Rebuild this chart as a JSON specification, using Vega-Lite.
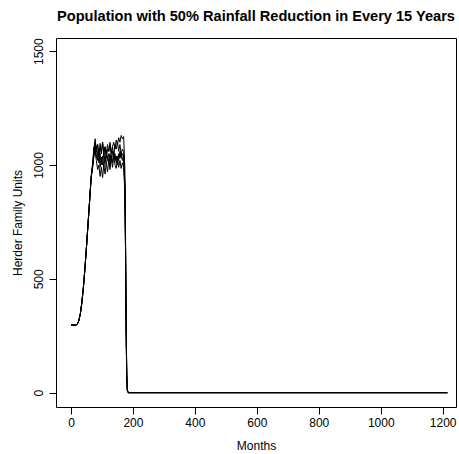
{
  "$schema": "https://vega.github.io/schema/vega-lite/v6.json",
  "width": 400,
  "height": 369,
  "autosize": {"type": "none"},
  "padding": {"left": 56, "top": 38, "right": 3, "bottom": 47},
  "background": "white",
  "title": {
    "text": "Population with 50% Rainfall Reduction in Every 15 Years",
    "font": "Liberation Sans",
    "fontSize": 14.6,
    "fontWeight": "bold",
    "color": "black",
    "anchor": "middle",
    "offset": 14
  },
  "config": {
    "view": {"stroke": "black", "strokeWidth": 1},
    "axis": {
      "domain": false,
      "grid": false,
      "tickColor": "black",
      "tickSize": 7,
      "labelFont": "Liberation Sans",
      "labelFontSize": 12,
      "labelColor": "black",
      "titleFont": "Liberation Sans",
      "titleFontSize": 12,
      "titleFontWeight": "normal",
      "titleColor": "black"
    }
  },
  "datasets": {
    "runs": [
      {"r":1,"m":0,"v":297},{"r":1,"m":10,"v":297},{"r":1,"m":15,"v":297},{"r":1,"m":20,"v":300},{"r":1,"m":25,"v":315},{"r":1,"m":30,"v":345},{"r":1,"m":35,"v":395},{"r":1,"m":40,"v":462},{"r":1,"m":45,"v":545},{"r":1,"m":50,"v":640},{"r":1,"m":55,"v":740},{"r":1,"m":60,"v":840},{"r":1,"m":65,"v":945},
      {"r":1,"m":70,"v":1010},{"r":1,"m":74,"v":1070},{"r":1,"m":78,"v":1115},{"r":1,"m":82,"v":1060},{"r":1,"m":86,"v":1090},{"r":1,"m":90,"v":1040},{"r":1,"m":94,"v":1095},{"r":1,"m":98,"v":1050},{"r":1,"m":102,"v":1100},{"r":1,"m":106,"v":1040},{"r":1,"m":110,"v":1080},{"r":1,"m":114,"v":1050},{"r":1,"m":118,"v":1090},{"r":1,"m":122,"v":1060},{"r":1,"m":126,"v":1100},{"r":1,"m":130,"v":1050},{"r":1,"m":134,"v":1080},{"r":1,"m":138,"v":1040},{"r":1,"m":142,"v":1090},{"r":1,"m":146,"v":1070},{"r":1,"m":150,"v":1100},{"r":1,"m":154,"v":1060},{"r":1,"m":158,"v":1090},{"r":1,"m":162,"v":1050},{"r":1,"m":166,"v":1070},{"r":1,"m":170,"v":1060},
      {"r":1,"m":174,"v":920},{"r":1,"m":176,"v":660},{"r":1,"m":178,"v":300},{"r":1,"m":180,"v":80},{"r":1,"m":182,"v":10},{"r":1,"m":185,"v":0},{"r":1,"m":1215,"v":0},
      {"r":2,"m":0,"v":297},{"r":2,"m":10,"v":297},{"r":2,"m":15,"v":297},{"r":2,"m":20,"v":300},{"r":2,"m":25,"v":315},{"r":2,"m":30,"v":345},{"r":2,"m":35,"v":395},{"r":2,"m":40,"v":462},{"r":2,"m":45,"v":545},{"r":2,"m":50,"v":640},{"r":2,"m":55,"v":740},{"r":2,"m":60,"v":840},{"r":2,"m":65,"v":945},
      {"r":2,"m":70,"v":990},{"r":2,"m":74,"v":1040},{"r":2,"m":78,"v":1060},{"r":2,"m":82,"v":1020},{"r":2,"m":86,"v":980},{"r":2,"m":90,"v":1000},{"r":2,"m":94,"v":950},{"r":2,"m":98,"v":990},{"r":2,"m":102,"v":945},{"r":2,"m":106,"v":1000},{"r":2,"m":110,"v":960},{"r":2,"m":114,"v":1010},{"r":2,"m":118,"v":970},{"r":2,"m":122,"v":1020},{"r":2,"m":126,"v":980},{"r":2,"m":130,"v":1030},{"r":2,"m":134,"v":990},{"r":2,"m":138,"v":1040},{"r":2,"m":142,"v":1000},{"r":2,"m":146,"v":985},{"r":2,"m":150,"v":1030},{"r":2,"m":154,"v":990},{"r":2,"m":158,"v":1020},{"r":2,"m":162,"v":985},{"r":2,"m":166,"v":1010},{"r":2,"m":170,"v":990},
      {"r":2,"m":174,"v":880},{"r":2,"m":176,"v":640},{"r":2,"m":178,"v":280},{"r":2,"m":180,"v":70},{"r":2,"m":182,"v":8},{"r":2,"m":185,"v":0},{"r":2,"m":1215,"v":0},
      {"r":3,"m":0,"v":297},{"r":3,"m":10,"v":297},{"r":3,"m":15,"v":297},{"r":3,"m":20,"v":300},{"r":3,"m":25,"v":315},{"r":3,"m":30,"v":345},{"r":3,"m":35,"v":395},{"r":3,"m":40,"v":462},{"r":3,"m":45,"v":545},{"r":3,"m":50,"v":640},{"r":3,"m":55,"v":740},{"r":3,"m":60,"v":840},{"r":3,"m":65,"v":945},
      {"r":3,"m":70,"v":1000},{"r":3,"m":74,"v":1050},{"r":3,"m":78,"v":1100},{"r":3,"m":82,"v":1060},{"r":3,"m":86,"v":1090},{"r":3,"m":90,"v":1040},{"r":3,"m":94,"v":1080},{"r":3,"m":98,"v":1050},{"r":3,"m":102,"v":1100},{"r":3,"m":106,"v":1060},{"r":3,"m":110,"v":1080},{"r":3,"m":114,"v":1030},{"r":3,"m":118,"v":1070},{"r":3,"m":122,"v":1060},{"r":3,"m":126,"v":1090},{"r":3,"m":130,"v":1050},{"r":3,"m":134,"v":1080},{"r":3,"m":138,"v":1100},{"r":3,"m":142,"v":1070},{"r":3,"m":146,"v":1110},{"r":3,"m":150,"v":1090},{"r":3,"m":154,"v":1120},{"r":3,"m":158,"v":1100},{"r":3,"m":162,"v":1130},{"r":3,"m":166,"v":1115},{"r":3,"m":170,"v":1125},
      {"r":3,"m":174,"v":980},{"r":3,"m":176,"v":700},{"r":3,"m":178,"v":320},{"r":3,"m":180,"v":90},{"r":3,"m":182,"v":12},{"r":3,"m":185,"v":0},{"r":3,"m":1215,"v":0},
      {"r":4,"m":0,"v":297},{"r":4,"m":10,"v":297},{"r":4,"m":15,"v":297},{"r":4,"m":20,"v":300},{"r":4,"m":25,"v":315},{"r":4,"m":30,"v":345},{"r":4,"m":35,"v":395},{"r":4,"m":40,"v":462},{"r":4,"m":45,"v":545},{"r":4,"m":50,"v":640},{"r":4,"m":55,"v":740},{"r":4,"m":60,"v":840},{"r":4,"m":65,"v":945},
      {"r":4,"m":70,"v":995},{"r":4,"m":74,"v":1045},{"r":4,"m":78,"v":1080},{"r":4,"m":82,"v":1030},{"r":4,"m":86,"v":1060},{"r":4,"m":90,"v":1010},{"r":4,"m":94,"v":1050},{"r":4,"m":98,"v":1000},{"r":4,"m":102,"v":1040},{"r":4,"m":106,"v":990},{"r":4,"m":110,"v":1030},{"r":4,"m":114,"v":1000},{"r":4,"m":118,"v":1040},{"r":4,"m":122,"v":1010},{"r":4,"m":126,"v":1050},{"r":4,"m":130,"v":1020},{"r":4,"m":134,"v":1060},{"r":4,"m":138,"v":1030},{"r":4,"m":142,"v":1050},{"r":4,"m":146,"v":1010},{"r":4,"m":150,"v":1040},{"r":4,"m":154,"v":1020},{"r":4,"m":158,"v":1060},{"r":4,"m":162,"v":1030},{"r":4,"m":166,"v":1050},{"r":4,"m":170,"v":1040},
      {"r":4,"m":174,"v":900},{"r":4,"m":176,"v":650},{"r":4,"m":178,"v":290},{"r":4,"m":180,"v":75},{"r":4,"m":182,"v":9},{"r":4,"m":185,"v":0},{"r":4,"m":1215,"v":0},
      {"r":5,"m":0,"v":297},{"r":5,"m":10,"v":297},{"r":5,"m":15,"v":297},{"r":5,"m":20,"v":300},{"r":5,"m":25,"v":315},{"r":5,"m":30,"v":345},{"r":5,"m":35,"v":395},{"r":5,"m":40,"v":462},{"r":5,"m":45,"v":545},{"r":5,"m":50,"v":640},{"r":5,"m":55,"v":740},{"r":5,"m":60,"v":840},{"r":5,"m":65,"v":945},
      {"r":5,"m":70,"v":1005},{"r":5,"m":74,"v":1080},{"r":5,"m":78,"v":1050},{"r":5,"m":82,"v":1085},{"r":5,"m":86,"v":1020},{"r":5,"m":90,"v":1070},{"r":5,"m":94,"v":990},{"r":5,"m":98,"v":1035},{"r":5,"m":102,"v":1000},{"r":5,"m":106,"v":1055},{"r":5,"m":110,"v":1015},{"r":5,"m":114,"v":1060},{"r":5,"m":118,"v":1020},{"r":5,"m":122,"v":1050},{"r":5,"m":126,"v":1000},{"r":5,"m":130,"v":1045},{"r":5,"m":134,"v":1010},{"r":5,"m":138,"v":1060},{"r":5,"m":142,"v":1020},{"r":5,"m":146,"v":1040},{"r":5,"m":150,"v":1000},{"r":5,"m":154,"v":1050},{"r":5,"m":158,"v":1030},{"r":5,"m":162,"v":1060},{"r":5,"m":166,"v":1020},{"r":5,"m":170,"v":1040},
      {"r":5,"m":174,"v":890},{"r":5,"m":176,"v":630},{"r":5,"m":178,"v":270},{"r":5,"m":180,"v":65},{"r":5,"m":182,"v":7},{"r":5,"m":185,"v":0},{"r":5,"m":1215,"v":0}
    ]
  },
  "data": {"name": "runs"},
  "mark": {"type": "line", "color": "black", "strokeWidth": 1},
  "encoding": {
    "x": {
      "field": "m",
      "type": "quantitative",
      "scale": {"domain": [-48.4, 1243], "nice": false, "zero": false},
      "axis": {
        "values": [0, 200, 400, 600, 800, 1000, 1200],
        "format": "d",
        "title": "Months",
        "labelPadding": 3,
        "titleX": 200,
        "titleY": 38,
        "titleBaseline": "middle",
        "titleAlign": "center"
      }
    },
    "y": {
      "field": "v",
      "type": "quantitative",
      "scale": {"domain": [-63, 1558], "nice": false, "zero": false},
      "axis": {
        "values": [0, 500, 1000, 1500],
        "format": "d",
        "title": "Herder Family Units",
        "labelAngle": -90,
        "labelAlign": "center",
        "labelBaseline": "bottom",
        "labelPadding": 4,
        "titleAngle": -90,
        "titleX": -39,
        "titleY": 184.5,
        "titleAlign": "center",
        "titleBaseline": "middle"
      }
    },
    "detail": {"field": "r", "type": "nominal"}
  }
}
